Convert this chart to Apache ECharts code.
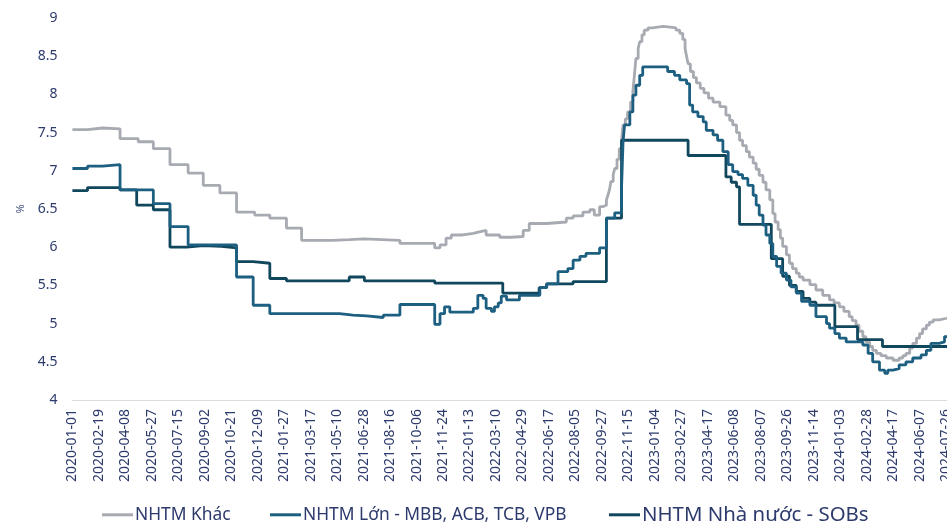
<!DOCTYPE html>
<html>
<head>
<meta charset="utf-8">
<script src="https://cdn.jsdelivr.net/npm/echarts@6/dist/echarts.min.js"></script>
<style>
  html, body { margin: 0; padding: 0; overflow: hidden; background: #ffffff; }
  #chart { width: 975px; height: 526px; }
</style>
</head>
<body>
<div id="chart"></div>
<script>
// x = trading-day index (one label every 35 sessions), y = deposit rate in %
const tickLabels = [
  '2020-01-01','2020-02-19','2020-04-08','2020-05-27','2020-07-15','2020-09-02','2020-10-21','2020-12-09',
  '2021-01-27','2021-03-17','2021-05-10','2021-06-28','2021-08-16','2021-10-06','2021-11-24',
  '2022-01-13','2022-03-10','2022-04-29','2022-06-17','2022-08-05','2022-09-27','2022-11-15',
  '2023-01-04','2023-02-27','2023-04-17','2023-06-08','2023-08-07','2023-09-26','2023-11-14',
  '2024-01-03','2024-02-28','2024-04-17','2024-06-07','2024-07-26'
];
const labelStep = 35;

const seriesNames = ['NHTM Khác', 'NHTM Lớn - MBB, ACB, TCB, VPB', 'NHTM Nhà nước - SOBs'];

// [session index, rate] at every change of rate
const khacRates = [
  [0,7.54],[20,7.56],[40,7.55],[63,7.42],[87,7.38],[107,7.29],[129,7.08],[153,6.97],[173,6.81],[195,6.71],
  [217,6.46],[241,6.42],[261,6.38],[283,6.25],[303,6.09],[344,6.10],[366,6.11],[386,6.09],[433,6.05],[479,5.99],
  [486,6.03],[494,6.12],[501,6.16],[516,6.18],[530,6.20],[538,6.22],[547,6.16],[565,6.13],[580,6.14],[596,6.22],
  [604,6.31],[627,6.33],[653,6.38],[662,6.41],[675,6.46],[684,6.49],[690,6.42],[697,6.53],[701,6.55],[706,6.62],
  [708,6.68],[710,6.75],[712,6.86],[715,6.95],[717,7.03],[720,7.15],[723,7.29],[726,7.40],[728,7.60],[731,7.68],
  [734,7.77],[738,7.90],[741,8.04],[743,8.25],[745,8.47],[748,8.60],[750,8.69],[753,8.78],[756,8.84],[761,8.87],
  [767,8.89],[781,8.88],[790,8.87],[798,8.84],[803,8.80],[807,8.72],[810,8.60],[812,8.50],[814,8.40],[817,8.30],
  [821,8.22],[825,8.15],[830,8.08],[835,8.02],[841,7.95],[847,7.90],[856,7.84],[864,7.73],[869,7.66],[873,7.60],
  [878,7.50],[882,7.40],[886,7.33],[891,7.25],[895,7.18],[900,7.10],[904,7.02],[908,6.94],[913,6.85],[917,6.75],
  [922,6.62],[926,6.44],[929,6.33],[933,6.23],[936,6.12],[939,6.01],[944,5.90],[948,5.79],[952,5.72],[957,5.66],
  [961,5.61],[966,5.57],[975,5.51],[983,5.44],[992,5.37],[1001,5.31],[1007,5.27],[1014,5.22],[1020,5.16],[1027,5.09],
  [1031,5.04],[1036,4.98],[1040,4.90],[1045,4.83],[1049,4.76],[1054,4.70],[1058,4.65],[1063,4.61],[1069,4.58],[1076,4.55],
  [1085,4.52],[1093,4.55],[1098,4.58],[1102,4.61],[1107,4.68],[1111,4.74],[1116,4.81],[1120,4.87],[1124,4.93],[1129,4.98],
  [1133,5.02],[1138,5.05],[1146,5.07],[1156,5.09],[1165,5.10]
];

const lonRates = [
  [0,7.03],[20,7.06],[40,7.08],[63,6.75],[107,6.57],[129,6.27],[153,6.03],[217,5.61],[239,5.24],[261,5.13],
  [353,5.11],[371,5.10],[389,5.08],[411,5.11],[433,5.25],[479,4.99],[486,5.13],[492,5.22],[499,5.15],[530,5.20],
  [536,5.37],[543,5.33],[547,5.20],[554,5.16],[558,5.22],[563,5.27],[567,5.36],[574,5.31],[591,5.37],[618,5.47],
  [627,5.52],[642,5.68],[655,5.72],[662,5.83],[671,5.88],[679,5.92],[697,5.99],[706,6.38],[717,6.45],[726,6.77],
  [728,7.38],[730,7.60],[737,7.77],[741,7.99],[745,8.12],[750,8.25],[754,8.36],[787,8.30],[796,8.25],[803,8.19],
  [812,8.14],[816,7.86],[820,7.77],[827,7.71],[834,7.64],[838,7.53],[847,7.47],[853,7.40],[860,7.25],[867,7.08],
  [873,6.99],[880,6.95],[886,6.90],[893,6.81],[900,6.68],[904,6.55],[908,6.42],[913,6.29],[917,6.16],[922,6.05],
  [926,5.88],[931,5.75],[937,5.66],[944,5.57],[950,5.48],[957,5.40],[964,5.29],[975,5.24],[983,5.09],[997,5.00],
  [1001,4.94],[1008,4.87],[1014,4.81],[1023,4.76],[1045,4.72],[1052,4.61],[1058,4.50],[1067,4.39],[1074,4.35],[1078,4.39],
  [1085,4.41],[1093,4.46],[1102,4.50],[1111,4.55],[1122,4.59],[1129,4.65],[1135,4.74],[1146,4.76],[1153,4.83],[1165,4.83]
];

const sobRates = [
  [0,6.74],[20,6.78],[63,6.75],[85,6.55],[107,6.49],[129,6.00],[151,6.02],[173,6.01],[197,5.99],[217,5.81],
  [239,5.79],[261,5.59],[283,5.56],[366,5.61],[386,5.56],[479,5.53],[569,5.40],[617,5.47],[627,5.52],[662,5.55],
  [706,6.38],[726,7.40],[814,7.20],[864,6.92],[871,6.85],[878,6.79],[882,6.30],[924,5.85],[939,5.62],[948,5.50],
  [957,5.42],[966,5.33],[975,5.28],[983,5.24],[1008,4.96],[1038,4.79],[1071,4.70],[1165,4.70]
];

const colors = ['#a7abb1', '#1d5f80', '#11475c'];
const inkColor = '#2c3a6c';
const fontFamily = '"Noto Sans", "DejaVu Sans", sans-serif';

const chart = echarts.init(document.getElementById('chart'), null, { renderer: 'canvas' });

const mkSeries = (name, data, color) => ({
  name: name,
  type: 'line',
  step: 'end',
  data: data,
  showSymbol: false,
  symbol: 'none',
  lineStyle: { color: color, width: 2.8 },
  itemStyle: { color: color },
  emphasis: { disabled: true },
  animation: false
});

// one legend entry per series, laid out left to right, vertically centred on the same row
const mkLegend = (name, left, fontSize) => ({
  left: left,
  top: 515 - fontSize / 2,
  padding: 0,
  icon: 'rect',
  itemWidth: 31,
  itemHeight: 3,
  textStyle: { color: inkColor, fontSize: fontSize, fontFamily: fontFamily, padding: [0, 0, 0, -3] },
  data: [name]
});

chart.setOption({
  animation: false,
  color: colors,
  grid: { left: 72.4, right: 2.5, top: 18, bottom: 126, containLabel: false },
  legend: [
    mkLegend(seriesNames[0], 102, 17.4),
    mkLegend(seriesNames[1], 270, 17.4),
    mkLegend(seriesNames[2], 609, 20.4)
  ],
  xAxis: {
    type: 'value',
    min: 0,
    max: labelStep * 34,
    interval: labelStep,
    axisLine: { show: true, lineStyle: { color: '#d9dbdf', width: 1 } },
    axisTick: { show: false },
    splitLine: { show: false },
    axisLabel: {
      rotate: 90,
      margin: 9,
      color: inkColor,
      fontSize: 14,
      fontFamily: fontFamily,
      formatter: v => (v % labelStep === 0 && tickLabels[v / labelStep]) || ''
    }
  },
  yAxis: {
    type: 'value',
    min: 4,
    max: 9,
    interval: 0.5,
    name: '%',
    nameLocation: 'middle',
    nameRotate: 90,
    nameGap: 46,
    nameTextStyle: { color: '#4a5680', fontSize: 11, fontFamily: fontFamily },
    axisLine: { show: false },
    axisTick: { show: false },
    splitLine: { show: false },
    axisLabel: { margin: 15, color: inkColor, fontSize: 14, fontFamily: fontFamily }
  },
  series: [
    mkSeries(seriesNames[0], khacRates, colors[0]),
    mkSeries(seriesNames[2], sobRates, colors[2]),
    mkSeries(seriesNames[1], lonRates, colors[1])
  ]
});
</script>
</body>
</html>
